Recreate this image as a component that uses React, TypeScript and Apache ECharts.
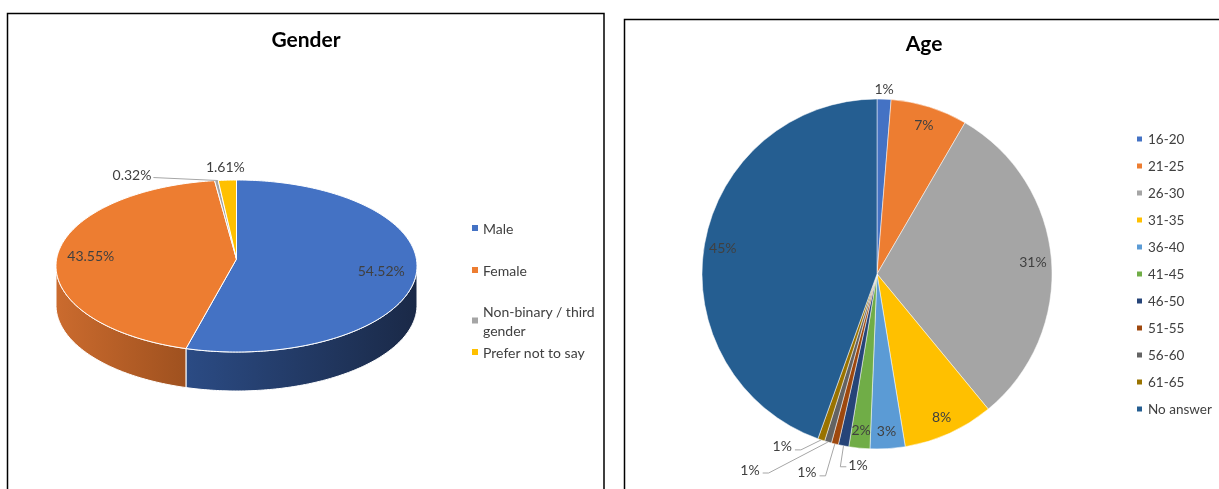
import React, { useEffect, useRef } from 'react';
import * as echarts from 'echarts';

const genderCategories = ['Male', 'Female', 'Non-binary / third gender', 'Prefer not to say'];
const genderCounts = [169, 135, 1, 5];
const genderColors = ['#4472C4', '#ED7D31', '#A5A5A5', '#FFC000'];
const genderSideColors = [
  ['#2B4B84', '#1A2947'],
  ['#CB6B2E', '#9F511F'],
  ['#7C7C7C', '#5E5E5E'],
  ['#C09000', '#967000'],
];

const ageCategories = ['16-20', '21-25', '26-30', '31-35', '36-40', '41-45', '46-50', '51-55', '56-60', '61-65', 'No answer'];
const ageCounts = [4, 22, 95, 26, 10, 6, 3, 2, 2, 2, 138];
const ageColors = ['#4472C4', '#ED7D31', '#A5A5A5', '#FFC000', '#5B9BD5', '#70AD47', '#264478', '#9E480E', '#636363', '#997300', '#255E91'];

const FONT = 'Lato, "Noto Sans", sans-serif';
const TEXT = '#404040';

// 3D pie geometry
const G = { cx: 236.5, cy: 266, ax: 236.5, ay: 259, rx: 180.5, ry: 86, depth: 39 };
// 2D pie geometry
const A = { cx: 877, cy: 274, r: 175 };
// outside label placement relative to the slice's outer edge point
const ageOutsidePlacement: Record<number, { dx: number; dy: number; side: string }> = {
  0: { dx: 0, dy: -11, side: 'none' },
  6: { dx: 14.5, dy: 19, side: 'right' },
  7: { dx: -28, dy: 28, side: 'left' },
  8: { dx: -78, dy: 27, side: 'left' },
  9: { dx: -39, dy: 6, side: 'left' },
};

const genderTotal = genderCounts.reduce((a, b) => a + b, 0);
const genderStarts: number[] = [];
{
  let acc = 0;
  for (const v of genderCounts) {
    genderStarts.push(acc);
    acc += v;
  }
}

const ageTotal = ageCounts.reduce((a, b) => a + b, 0);
const ageStarts: number[] = [];
{
  let acc = 0;
  for (const v of ageCounts) {
    ageStarts.push(acc);
    acc += v;
  }
}
const pctOf = (v: number) => (v / ageTotal) * 100;

function ell(t: number, dy = 0): number[] {
  return [G.cx + G.rx * Math.sin(t), G.cy - G.ry * Math.cos(t) + dy];
}

function arcPts(t0: number, t1: number, dy = 0): number[][] {
  const n = Math.max(2, Math.ceil(((t1 - t0) * 180) / Math.PI));
  const pts: number[][] = [];
  for (let k = 0; k <= n; k++) pts.push(ell(t0 + ((t1 - t0) * k) / n, dy));
  return pts;
}

function genderRender(i: number) {
  return () => {
    const t0 = (genderStarts[i] / genderTotal) * Math.PI * 2;
    const t1 = ((genderStarts[i] + genderCounts[i]) / genderTotal) * Math.PI * 2;
    const children: any[] = [];
    const s0 = Math.max(t0, Math.PI / 2);
    const s1 = Math.min(t1, (Math.PI * 3) / 2);
    if (s1 > s0) {
      const top = arcPts(s0, s1);
      const bottom = arcPts(s0, s1, G.depth).reverse();
      children.push({
        type: 'polygon',
        shape: { points: top.concat(bottom) },
        style: {
          fill: new echarts.graphic.LinearGradient(0, 0, 1, 0, [
            { offset: 0, color: genderSideColors[i][0] },
            { offset: 1, color: genderSideColors[i][1] },
          ]),
          stroke: '#ffffff',
          lineWidth: 1,
        },
      });
    }
    const face = [[G.ax, G.ay]].concat(arcPts(t0, t1));
    children.push({
      type: 'polygon',
      shape: { points: face },
      style: { fill: genderColors[i], stroke: '#ffffff', lineWidth: 1 },
    });
    const pct = (genderCounts[i] / genderTotal) * 100;
    const text = pct.toFixed(2) + '%';
    const tm = (t0 + t1) / 2;
    const edge = ell(tm);
    const ts = { text, fill: TEXT, fontSize: 14, fontFamily: FONT, verticalAlign: 'middle' };
    if (pct >= 10) {
      const k = 0.81;
      children.push({
        type: 'text',
        z2: 10,
        x: G.ax + k * (edge[0] - G.ax),
        y: G.ay + k * (edge[1] - G.ay) - 4,
        style: { ...ts, align: 'center' },
      });
    } else if (pct < 1) {
      const end = [edge[0] - 63, edge[1] - 3];
      children.push({
        type: 'polyline',
        shape: { points: [[edge[0] + 2, edge[1]], end] },
        style: { stroke: '#A6A6A6', lineWidth: 1, fill: null },
      });
      children.push({
        type: 'text',
        z2: 10,
        x: end[0] - 2,
        y: end[1] - 3,
        style: { ...ts, align: 'right' },
      });
    } else {
      children.push({
        type: 'text',
        z2: 10,
        x: edge[0] - 2,
        y: edge[1] - 14,
        style: { ...ts, align: 'center' },
      });
    }
    return { type: 'group', children };
  };
}

function ageEdgePoint(i: number): number[] {
  const mid = ((ageStarts[i] + ageCounts[i] / 2) / ageTotal) * Math.PI * 2;
  return [A.cx + A.r * Math.sin(mid), A.cy - A.r * Math.cos(mid)];
}

export default function App() {
  const ref = useRef<HTMLDivElement>(null);
  useEffect(() => {
    document.body.style.margin = '0';
    const chart = echarts.init(ref.current!, null, { renderer: 'svg' });

    const genderSeries = genderCategories.map((name, i) => ({
      type: 'custom',
      name,
      coordinateSystem: 'none',
      silent: true,
      itemStyle: { color: genderColors[i] },
      data: [[i]],
      renderItem: genderRender(i),
    }));

    const genderLegendTops = [213.5, 255.5, 296.5, 337.5];
    const genderLegends = genderCategories.map((name, i) => ({
      data: [name],
      left: 467,
      top: genderLegendTops[i],
      orient: 'vertical',
      icon: 'rect',
      itemWidth: 6,
      itemHeight: 6,
      selectedMode: false,
      textStyle: { fontSize: 14, color: TEXT, fontFamily: FONT, lineHeight: 19, width: 118, overflow: 'break' },
    }));

    const ageMain = {
      type: 'pie',
      name: 'Age',
      center: [A.cx, A.cy],
      radius: A.r,
      startAngle: 90,
      clockwise: true,
      silent: true,
      avoidLabelOverlap: false,
      itemStyle: { borderColor: '#ffffff', borderWidth: 0.5 },
      labelLayout: (params: any) => {
        const cfg = ageOutsidePlacement[params.dataIndex];
        if (!cfg) return {};
        const a = ageEdgePoint(params.dataIndex);
        const x = a[0] + cfg.dx;
        const y = a[1] + cfg.dy;
        const w = params.labelRect ? params.labelRect.width : 18;
        const out: any = { x, y, align: 'center', verticalAlign: 'middle' };
        if (cfg.side === 'left') {
          const end = [x + w / 2 + 3, y + 4];
          out.labelLinePoints = [a, [end[0] + 6, end[1]], end];
        } else if (cfg.side === 'right') {
          const end = [x - w / 2 - 2, y + 2];
          out.labelLinePoints = [a, [end[0] - 6, end[1]], end];
        }
        return out;
      },
      data: ageCategories.map((name, i) => {
        const small = pctOf(ageCounts[i]) < 1.5;
        const cfg = ageOutsidePlacement[i];
        return {
          name,
          value: ageCounts[i],
          itemStyle: { color: ageColors[i] },
          label: {
            show: small,
            position: 'outside',
            formatter: (p: any) => Math.round(p.percent) + '%',
            fontSize: 14,
            color: TEXT,
            fontFamily: FONT,
          },
          labelLine: {
            show: small && !!cfg && cfg.side !== 'none',
            length: 14,
            length2: 8,
            lineStyle: { color: '#A6A6A6', width: 1 },
          },
        };
      }),
    };

    const ageLabels = {
      type: 'pie',
      name: 'AgeLabels',
      center: [A.cx, A.cy],
      radius: [132, A.r],
      startAngle: 90,
      clockwise: true,
      silent: true,
      itemStyle: { color: 'rgba(0,0,0,0)' },
      label: {
        position: 'inside',
        fontSize: 14,
        color: TEXT,
        fontFamily: FONT,
        formatter: (p: any) => (p.percent >= 1.5 ? Math.round(p.percent) + '%' : ''),
      },
      labelLine: { show: false },
      data: ageCategories.map((name, i) => ({ name, value: ageCounts[i] })),
    };

    chart.setOption({
      animation: false,
      title: [
        {
          text: 'Gender',
          left: 301,
          top: 22.5,
          textAlign: 'center',
          textStyle: { fontSize: 21, fontWeight: 'bold', color: '#000', fontFamily: FONT },
        },
        {
          text: 'Age',
          left: 919,
          top: 26.5,
          textAlign: 'center',
          textStyle: { fontSize: 21, fontWeight: 'bold', color: '#000', fontFamily: FONT },
        },
      ],
      legend: [
        ...genderLegends,
        {
          data: ageCategories,
          left: 1130,
          top: 127,
          orient: 'vertical',
          icon: 'rect',
          itemWidth: 7,
          itemHeight: 7,
          itemGap: 13,
          selectedMode: false,
          textStyle: { fontSize: 13.5, color: TEXT, fontFamily: FONT, lineHeight: 14 },
        },
      ],
      graphic: [
        {
          type: 'rect',
          shape: { x: 7.5, y: 13.5, width: 596.5, height: 500 },
          style: { fill: 'none', stroke: '#000', lineWidth: 1.5 },
          silent: true,
        },
        {
          type: 'rect',
          shape: { x: 624.5, y: 19.5, width: 620, height: 500 },
          style: { fill: 'none', stroke: '#000', lineWidth: 1.5 },
          silent: true,
        },
      ],
      series: [...genderSeries, ageMain, ageLabels],
    });
    return () => chart.dispose();
  }, []);
  return <div ref={ref} style={{ position: 'fixed', left: 0, top: 0, width: 1219, height: 489 }} />;
}
